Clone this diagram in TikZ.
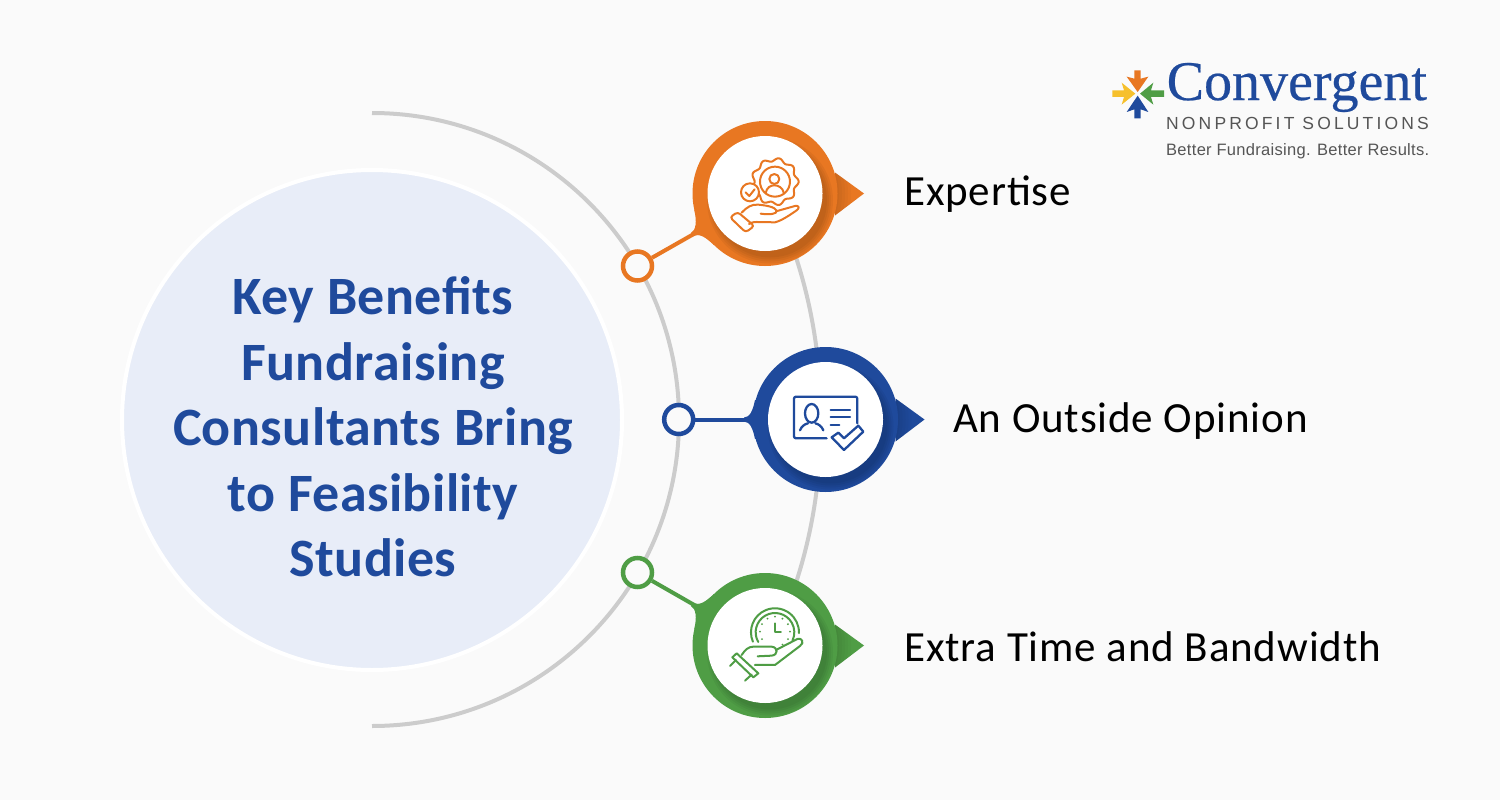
\documentclass[tikz,border=0pt]{standalone}
\usepackage{fontspec}
\setmainfont{Carlito}
\newfontfamily\labelfont[LetterSpace=2]{Carlito}
\newfontfamily\titlefont[LetterSpace=0.8]{Carlito}
\newfontfamily\logoserif[FakeBold=0.4]{Liberation Serif}
\newfontfamily\logosans[LetterSpace=18]{Liberation Sans}
\newfontfamily\logotag[LetterSpace=1.8]{Liberation Sans}
\usetikzlibrary{calc}
\definecolor{bgc}{HTML}{FAFAFA}
\definecolor{discc}{HTML}{E8EDF8}
\definecolor{arcc}{HTML}{CCCCCC}
\definecolor{orangec}{HTML}{E87722}
\definecolor{bluec}{HTML}{1F4A9C}
\definecolor{greenc}{HTML}{4F9D45}
\definecolor{yellowc}{HTML}{F6C02C}
\definecolor{logogray}{HTML}{555555}
\tikzset{
  label text/.style={anchor=base west,inner sep=0pt,font=\labelfont\fontsize{43}{43}\selectfont,text=black},
  ring dot/.style={circle,draw=#1,line width=4.5pt,fill=bgc,minimum size=29pt,inner sep=0pt},
  pin disc/.style={circle,fill=#1,minimum size=145pt,inner sep=0pt,outer sep=0pt},
  pin hole/.style={circle,fill=white,minimum size=115pt,inner sep=0pt},
  grey arc/.style={draw=arcc,line width=4pt},
  stem/.style={draw=#1,line width=4pt},
  icon/.style={draw=#1,line width=2pt,line cap=round,line join=round},
}
\newcommand{\pinbody}[4]{%
  \fill[#4] (#2+70,#3-21) -- (#2+99,#3) -- (#2+70,#3+22) -- cycle;
  \begin{scope}
    \clip (#2+70,#3-21) -- (#2+99,#3) -- (#2+70,#3+22) -- cycle;
    \foreach \rr in {74,77,80,83,86}{\fill[black,opacity=.022] (#2,#3) circle[radius=\rr];}
  \end{scope}
  \node[pin disc=#4] (#1) at (#2,#3) {};
  \begin{scope}
    \clip (#2,#3) circle[radius=72.5];
    \foreach \rr in {57,59,61,63}{\fill[black,opacity=.045] (#2+5,#3+7) circle[radius=\rr];}
  \end{scope}
  \node[pin hole] (#1hole) at (#2,#3) {};
}
\begin{document}
\begin{tikzpicture}[x=1pt,y=-1pt]
\useasboundingbox (0,0) rectangle (1500,800);
\fill[bgc] (0,0) rectangle (1500,800);

% central disc and arcs
\node[circle,fill=discc,draw=white,line width=4pt,minimum size=500pt,inner sep=0pt] (disc) at (372,420) {};
\draw[grey arc] (372,113) arc[start angle=90,end angle=-90,x radius=307,y radius=-306.5];
\coordinate (arcTop) at (790,240);
\coordinate (arcBot) at (790,600);
\draw[grey arc] (arcTop) .. controls (812,300) and (821,360) .. (821,420) .. controls (821,480) and (812,540) .. (arcBot);

% title
\node[align=center,inner sep=0pt,text=bluec,font=\titlefont\bfseries\fontsize{54}{65.5}\selectfont] (title) at (373,427)
  {Key Benefits\\Fundraising\\Consultants Bring\\to Feasibility\\Studies};

% stem flares
\fill[orangec] (691,233) .. controls (696,230) and (697,222) .. (694.3,210) -- (765,193) -- (714,245) .. controls (706,238) and (700,232.6) .. (693,236.4) -- cycle;
\fill[bluec] (744,417.5) .. controls (750,417.5) and (753,410) .. (755,400) -- (825.5,419.5) -- (755,439) .. controls (753,429) and (750,421.5) .. (744,421.5) -- cycle;
\fill[greenc] (691,606) .. controls (696,609) and (697,617) .. (694.3,629) -- (765,646) -- (714,594) .. controls (706,601) and (700,606.4) .. (693,602.6) -- cycle;

% pins
\pinbody{pinA}{765}{193.5}{orangec}
\pinbody{pinB}{825.5}{419.5}{bluec}
\pinbody{pinC}{765}{645.5}{greenc}

% dots and connectors
\node[ring dot=orangec] (dotA) at (637.5,266) {};
\node[ring dot=bluec] (dotB) at (678.7,419.5) {};
\node[ring dot=greenc] (dotC) at (637.5,572.5) {};
\draw[stem=orangec] (dotA) -- (pinA);
\draw[stem=bluec] (dotB) -- (pinB);
\draw[stem=greenc] (dotC) -- (pinC);

% orange icon
\begin{scope}[shift={(600,100)},x=.3333pt,y=-.3333pt,icon=orangec]
  \draw plot[domain=0:360,samples=145,smooth] ({525+(66+5*cos(9*\x))*cos(\x)},{245+(66+5*cos(9*\x))*sin(\x)});
  \draw (525,245) circle[radius=45];
  \draw (523,237) circle[radius=15];
  \draw (497,280) .. controls (500,262) and (512,256) .. (523,256) .. controls (535,256) and (548,262) .. (552,280);
  \fill[white] (450,277) circle[radius=27];
  \draw (450,277) circle[radius=27];
  \draw (437,277) -- (448,288) -- (464,268);
  \draw[rounded corners=3pt] (390,352) -- (413,336) -- (463,378) -- (437,397) -- cycle;
  \draw (425,338) .. controls (440,322) and (455,312) .. (475,314) .. controls (495,316) and (525,320) .. (530,332) .. controls (532,342) and (510,345) .. (482,341);
  \draw (528,334) -- (585,318) .. controls (597,315) and (600,325) .. (590,331) .. controls (570,345) and (545,362) .. (525,367) -- (470,366) .. controls (458,366) and (452,369) .. (447,372);
\end{scope}

% blue icon
\begin{scope}[shift={(650,330)},x=.3333pt,y=-.3333pt,icon=bluec]
  \draw[line width=2.3pt,rounded corners=2pt] (530,325) -- (432,325) -- (432,200) -- (622,200) -- (622,280);
  \draw[line width=2.3pt] (485,250) ellipse[x radius=20,y radius=28];
  \draw[line width=2.3pt] (450,301) .. controls (455,288) and (465,282) .. (474,280);
  \draw[line width=2.3pt] (520,301) .. controls (515,288) and (505,282) .. (496,280);
  \draw[line width=2.3pt] (542,240) -- (600,240) (542,262) -- (600,262) (542,285) -- (568,285);
  \draw[line width=2.3pt] (545,322) -- (565,308) -- (582,325) -- (625,287) -- (640,305) -- (582,360) -- cycle;
\end{scope}

% green icon
\begin{scope}[shift={(600,540)},x=.3333pt,y=-.3333pt,icon=greenc]
  \draw (458.7,305) arc[start angle=157,end angle=362,radius=72];
  \draw (474.8,306) arc[start angle=150,end angle=385,radius=58];
  \draw (525,250) -- (525,275) -- (543,275);
  \foreach \a in {150,180,...,420}{\fill[greenc,draw=none] ({525+45*cos(\a)},{275+45*sin(\a)}) circle[radius=3.2];}
  \draw (410,340) -- (475,400) -- (460,412) -- (397,352) -- cycle;
  \draw (390,378) -- (408,360) (435,422) -- (455,404);
  \draw (425,345) .. controls (435,330) and (445,320) .. (460,320) -- (515,320) .. controls (535,322) and (535,345) .. (515,347) -- (473,349);
  \draw (528,330) -- (592,297) .. controls (605,292) and (615,308) .. (600,318) -- (525,375) -- (465,375);
\end{scope}

% labels
\node[label text] (lblA) at (904,205) {Expertise};
\node[label text] (lblB) at (953,432) {An Outside Opinion};
\node[label text] (lblC) at (904,661) {Extra Time and Bandwidth};

% logo mark
\begin{scope}[shift={(1100,50)},x=.3333pt,y=-.3333pt]
  \fill[orangec] (80,80) -- (103,86) -- (103,61) -- (122,61) -- (122,86) -- (145,80) -- (113,126) -- cycle;
  \fill[bluec] (80,186) -- (103,178) -- (103,205) -- (122,205) -- (122,178) -- (145,186) -- (113,137) -- cycle;
  \fill[yellowc] (65,98) -- (72,121) -- (37,121) -- (37,141) -- (72,141) -- (65,164) -- (106,131) -- cycle;
  \fill[greenc] (160,98) -- (153,121) -- (192,121) -- (192,141) -- (153,141) -- (160,164) -- (120,131) -- cycle;
\end{scope}
\node[anchor=base west,inner sep=0pt,text=bluec,font=\logoserif\fontsize{56}{56}\selectfont] (logoA) at (1166.5,100) {Convergent};
\node[anchor=base west,inner sep=0pt,text=logogray,font=\logosans\fontsize{17.5}{17.5}\selectfont] (logoB) at (1166,129) {NONPROFIT SOLUTIONS};
\node[anchor=base west,inner sep=0pt,text=logogray,font=\logotag\fontsize{16.5}{16.5}\selectfont] (logoC) at (1166,155) {Better Fundraising. Better Results.};
\end{tikzpicture}
\end{document}
